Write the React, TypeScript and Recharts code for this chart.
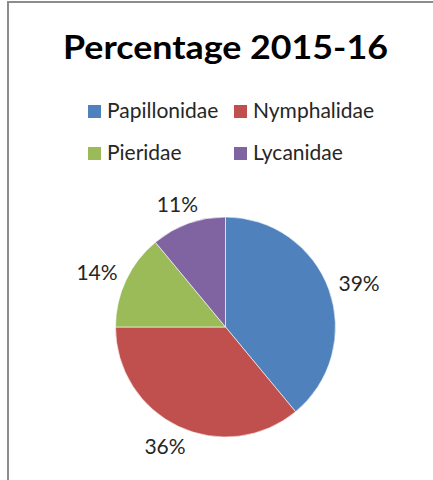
import React from 'react';
import { PieChart, Pie, Cell, Legend } from 'recharts';

const families = ['Papillonidae', 'Nymphalidae', 'Pieridae', 'Lycanidae'];
const percentages = [39, 36, 14, 11];
const colors = ['#4F81BD', '#C0504D', '#9BBB59', '#8064A2'];
const title = 'Percentage 2015-16';

const data = families.map((name, i) => ({ name, value: percentages[i] }));

const RADIAN = Math.PI / 180;
const FONT = 'Lato, "DejaVu Sans", sans-serif';

const renderLabel = (props: any) => {
  const { cx, cy, midAngle, outerRadius, percent } = props;
  const cos = Math.cos(midAngle * RADIAN);
  const sin = Math.sin(midAngle * RADIAN);
  const r = outerRadius + 12;
  const px = cx + r * cos;
  const py = cy - r * sin;
  const x = px + cos * 20;
  const y = py - sin * 9;
  return (
    <text
      x={x}
      y={y}
      textAnchor="middle"
      dominantBaseline="central"
      fill="#262626"
      fontSize={21}
      fontFamily={FONT}
    >
      {`${Math.round(percent * 100)}%`}
    </text>
  );
};

const renderLegend = (props: any) => {
  const payload = [...(props.payload || [])].sort(
    (a: any, b: any) => families.indexOf(a.value) - families.indexOf(b.value)
  );
  const cols = [88, 234];
  const rows = [118, 160];
  return (
    <svg width={433} height={180} style={{ position: 'absolute', left: 0, top: 0, overflow: 'visible' }}>
      {payload.map((entry: any, i: number) => {
        const col = i % 2;
        const row = Math.floor(i / 2);
        const x = cols[col];
        const base = rows[row];
        return (
          <g key={entry.value}>
            <rect x={x} y={base - 13} width={13} height={13} fill={entry.color} />
            <text x={x + 19} y={base} fontSize={21} fontFamily={FONT} fill="#262626">
              {entry.value}
            </text>
          </g>
        );
      })}
    </svg>
  );
};

export default function App() {
  return (
    <div style={{ position: 'absolute', left: 0, top: 0, width: 433, height: 480, background: '#fff', overflow: 'hidden' }}>
      <div
        style={{
          position: 'absolute',
          left: 7,
          top: 1,
          width: 600,
          height: 600,
          borderTop: '2px solid #8c8c8c',
          borderLeft: '2px solid #8c8c8c',
        }}
      />
      <svg width={433} height={80} style={{ position: 'absolute', left: 0, top: 0 }}>
        <text
          x={225.5}
          y={59}
          textAnchor="middle"
          fontSize={33}
          fontWeight="bold"
          fontFamily={FONT}
          fill="#000"
          textLength={325}
          lengthAdjust="spacingAndGlyphs"
        >
          {title}
        </text>
      </svg>
      <div style={{ position: 'absolute', left: 0, top: 0 }}>
        <PieChart width={433} height={480} margin={{ top: 0, right: 0, bottom: 0, left: 0 }}>
          <Pie
            data={data}
            dataKey="value"
            nameKey="name"
            cx={225.5}
            cy={327}
            outerRadius={110}
            startAngle={90}
            endAngle={-270}
            stroke="rgba(255,255,255,0.6)"
            strokeWidth={1}
            label={renderLabel}
            labelLine={false}
            isAnimationActive={false}
          >
            {data.map((d, i) => (
              <Cell key={d.name} fill={colors[i]} />
            ))}
          </Pie>
          <Legend
            layout="vertical"
            align="right"
            verticalAlign="top"
            content={renderLegend}
            wrapperStyle={{ left: 0, top: 0, right: 'auto', width: 433, height: 0 }}
          />
        </PieChart>
      </div>
    </div>
  );
}
